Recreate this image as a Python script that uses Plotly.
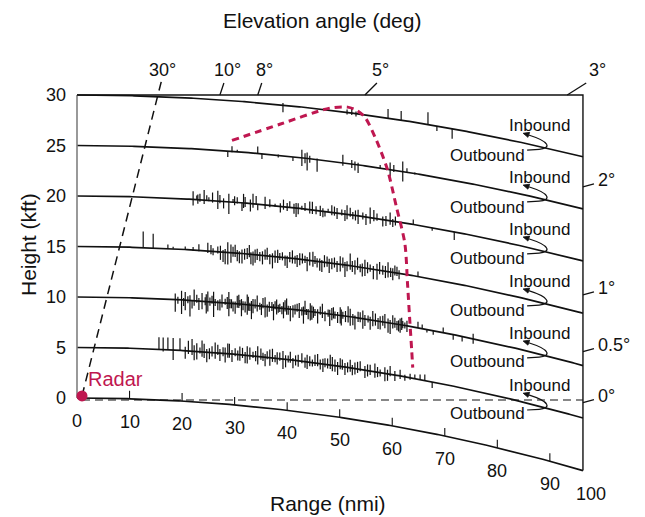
import math
import plotly.graph_objects as go

# ---------------- data ----------------
RANGE_TICKS = [0, 10, 20, 30, 40, 50, 60, 70, 80, 90, 100]
HEIGHT_TICKS = [0, 5, 10, 15, 20, 25, 30]
FLIGHT_ALTS = [30, 25, 20, 15, 10, 5]          # kft
RANGE_EDGE = 96.3                               # nmi where the right border sits (labelled 100)

# bird/angel echo ticks on each flight line: range (nmi), extent above / below line (kft)
ECHO_30_R = [39.2, 51.4, 52.3, 53.1, 59.2, 61.7, 66.8, 68.5, 71.4]
ECHO_30_UP = [0.2, 0.3, 0.4, 0.2, 0.9, 0.9, 1.2, 0.0, 0.0]
ECHO_30_DN = [0.7, 0.2, 0.2, 0.3, 0.0, 0.0, 0.0, 0.5, 1.0]

ECHO_25_R = [28.7, 29.5, 30.5, 34.4, 35.2, 38.3, 41.1, 42.8, 43.4, 43.8, 44.3, 45.7,
             50.6, 52.3, 52.9, 53.5, 57.7, 59.6, 60.3, 62.0, 62.8, 64.3]
ECHO_25_UP = [0.0, 0.5, 0.2, 0.7, 0.0, 0.1, 0.0, 0.8, 0.5, 0.6, 0.3, 0.1,
              0.8, 0.4, 0.3, 0.2, 0.3, 0.7, 0.5, 1.0, 0.4, 0.1]
ECHO_25_DN = [0.6, 0.1, 0.0, 0.0, 0.5, 0.2, 0.4, 0.8, 0.5, 1.2, 0.4, 1.2,
              0.3, 0.4, 0.6, 0.8, 0.0, 0.7, 0.2, 1.0, 0.0, 0.1]

ECHO_20_R = [22.1, 22.8, 23.4, 24.2, 24.7, 25.1, 26.8, 27.2, 28.9, 29.7, 30.5, 31.4, 32.0,
             33.5, 34.1, 34.4, 35.8, 37.7, 40.0, 40.5, 41.3, 42.1, 42.8, 43.4, 44.3, 45.5,
             46.3, 47.2, 47.8, 48.5, 49.5, 50.4, 51.4, 52.5, 53.5, 54.4, 55.8, 57.1, 58.2,
             59.6, 60.1, 64.0, 67.6, 71.8,
             23.0, 25.8, 27.9, 30.0, 31.7, 33.0, 36.7, 38.7, 39.3, 41.7,
             44.8, 46.8, 49.0, 51.0, 52.0, 53.0, 55.0, 56.5, 58.8, 60.6]
ECHO_20_UP = [0.8, 0.4, 0.6, 1.0, 0.5, 0.3, 1.0, 0.6, 0.8, 0.3, 0.5, 0.0, 0.6,
              1.0, 0.8, 0.0, 0.8, 0.2, 0.4, 0.6, 0.4, 0.5, 0.3, 0.6, 0.8, 0.4,
              0.5, 0.0, 0.3, 0.7, 0.5, 0.4, 0.9, 0.3, 0.6, 0.4, 1.0, 0.5, 0.3,
              0.8, 0.2, 0.5, 0.0, 0.0,
              0.5, 0.8, 0.3, 0.6, 0.9, 0.4, 0.6, 0.3, 0.7, 0.5,
              0.8, 0.3, 0.6, 0.4, 0.7, 0.5, 0.3, 0.8, 0.4, 0.5]
ECHO_20_DN = [0.6, 0.0, 0.2, 0.4, 0.0, 0.1, 0.8, 0.2, 1.2, 0.0, 0.1, 0.8, 0.4,
              0.4, 0.0, 0.6, 0.4, 0.1, 0.4, 0.0, 0.6, 0.6, 0.1, 0.2, 0.4, 0.4,
              0.5, 0.5, 0.0, 0.3, 0.6, 0.2, 0.5, 0.4, 0.8, 0.3, 0.6, 0.2, 0.7,
              0.4, 0.6, 0.0, 0.3, 0.8,
              0.4, 0.2, 0.7, 0.3, 0.5, 0.8, 0.2, 0.6, 0.3, 0.9,
              0.4, 0.6, 0.3, 0.7, 0.2, 0.5, 0.8, 0.3, 0.6, 0.4]

ECHO_15_R = [12.6, 14.5, 17.3, 18.3, 20.6, 22.1, 23.2, 24.9, 25.5, 25.9, 26.8, 27.8,
             28.7, 29.3, 29.7, 30.5, 31.4, 32.4, 33.1, 33.9, 34.8, 35.8, 36.7, 37.7,
             38.6, 39.6, 40.5, 41.5, 42.4, 43.4, 44.3, 45.7, 46.6, 47.6, 48.5, 49.5,
             50.6, 51.4, 52.0, 52.9, 53.9, 54.8, 55.8, 57.1, 58.2, 59.2, 60.1, 60.9, 64.9,
             27.3, 28.2, 30.1, 30.9, 31.9, 32.8, 33.5, 34.3, 35.3, 36.2,
             37.2, 38.2, 39.1, 40.0, 41.0, 41.9, 42.9, 43.8, 44.9, 45.3,
             46.2, 47.1, 48.0, 49.0, 50.1, 51.0, 52.4, 53.4, 54.3, 55.3,
             56.4, 57.6, 58.7, 59.7, 60.5, 61.3]
ECHO_15_UP = [1.6, 1.4, 0.4, 0.2, 0.3, 0.3, 0.6, 0.8, 0.6, 0.3, 0.5, 0.2,
              1.0, 0.8, 0.6, 0.3, 0.4, 0.6, 0.2, 0.5, 0.3, 0.6, 0.2, 0.6,
              0.4, 0.2, 0.6, 0.3, 0.6, 0.4, 0.8, 0.3, 0.2, 0.6, 0.5, 0.3,
              0.7, 0.4, 1.2, 0.6, 0.3, 0.8, 0.4, 0.6, 0.5, 0.9, 0.4, 0.6, 0.5,
              0.6, 0.3, 0.8, 0.2, 0.5, 0.9, 0.3, 0.6, 0.4, 0.8,
              0.3, 0.7, 0.5, 0.2, 0.8, 0.4, 0.6, 0.3, 0.9, 0.5,
              0.3, 0.7, 0.4, 0.6, 0.8, 0.3, 0.5, 0.9, 0.4, 0.6,
              0.3, 0.8, 0.5, 0.4, 0.7, 0.3]
ECHO_15_DN = [0.0, 0.0, 0.0, 0.0, 0.0, 0.1, 0.1, 0.2, 0.3, 0.4, 0.2, 1.0,
              1.2, 1.0, 0.4, 0.8, 1.0, 0.5, 1.0, 0.8, 0.6, 0.4, 0.8, 0.6,
              0.3, 0.8, 0.4, 0.5, 0.6, 0.3, 0.5, 0.6, 1.0, 0.4, 0.6, 0.8,
              0.3, 0.6, 0.4, 0.8, 0.5, 0.8, 0.3, 1.0, 0.4, 0.6, 0.8, 0.3, 0.0,
              0.8, 1.2, 0.4, 1.0, 0.6, 0.3, 1.1, 0.5, 0.9, 0.4,
              1.2, 0.6, 0.3, 1.0, 0.5, 0.8, 0.4, 1.1, 0.6, 0.3,
              0.9, 0.5, 1.0, 0.4, 0.7, 1.2, 0.6, 0.3, 0.9, 0.5,
              1.0, 0.4, 0.7, 0.5, 0.3, 0.6]

ECHO_10_R = [18.7, 19.2, 20.6, 21.1, 21.9, 22.8, 23.8, 24.4, 24.9, 25.7, 26.3, 26.8,
             27.6, 28.2, 29.1, 29.7, 30.5, 31.0, 31.6, 32.4, 32.9, 33.5, 34.3, 34.8,
             35.4, 36.2, 37.1, 37.7, 38.3, 39.0, 39.6, 40.2, 41.1, 41.9, 42.8, 43.4,
             44.0, 44.7, 45.3, 46.3, 47.2, 47.8, 48.5, 49.1, 50.1, 50.6, 51.6, 52.5,
             53.5, 54.4, 55.4, 56.3, 57.3, 58.2, 59.2, 60.1, 60.9, 61.5, 62.0, 62.8,
             64.9, 65.7, 66.6, 67.8, 69.7, 71.6, 73.3, 75.4,
             19.9, 20.3, 21.5, 22.3, 23.2, 24.6, 25.3, 26.0, 27.2, 28.6,
             28.9, 29.4, 30.1, 30.8, 31.3, 32.0, 32.6, 33.2, 33.9, 35.1,
             35.8, 36.6, 37.4, 38.0, 38.6, 39.3, 39.9, 40.6, 41.5, 42.3,
             43.1, 43.7, 44.4, 45.0, 45.8, 46.7, 48.1, 48.8, 49.6, 50.3,
             51.1, 52.0, 52.9, 53.9, 54.8, 55.8, 56.8, 57.7, 58.6, 59.6,
             60.5, 61.2, 61.8, 62.4]
ECHO_10_UP = [0.6, 0.3, 0.8, 0.4, 0.0, 0.6, 0.8, 0.4, 1.0, 0.6, 0.3, 0.2,
              0.8, 0.4, 0.4, 0.2, 0.8, 0.4, 0.3, 1.0, 0.2, 0.6, 1.0, 0.3,
              0.8, 0.2, 0.5, 0.6, 0.3, 0.2, 0.8, 0.3, 0.4, 0.6, 0.3, 1.0,
              0.2, 0.6, 0.3, 0.6, 0.2, 0.4, 0.6, 0.3, 0.8, 0.4, 1.0, 0.3,
              0.6, 0.8, 0.4, 0.9, 0.3, 0.6, 0.4, 0.8, 0.3, 0.6, 0.4, 0.5,
              0.6, 0.4, 0.0, 0.0, 0.5, 0.0, 0.0, 0.5,
              0.9, 0.2, 0.5, 1.1, 0.3, 0.7, 0.4, 1.0, 0.3, 0.6,
              1.1, 0.4, 0.2, 0.9, 0.5, 0.3, 0.8, 0.4, 0.6, 0.2,
              0.9, 0.5, 0.3, 0.8, 0.4, 0.6, 1.0, 0.3, 0.5, 0.7,
              0.4, 0.2, 0.8, 0.5, 0.3, 0.9, 0.4, 0.7, 0.3, 0.6,
              0.5, 0.8, 0.2, 0.6, 0.4, 0.3, 0.7, 0.5, 0.8, 0.3,
              0.6, 0.4, 0.7, 0.3]
ECHO_10_DN = [1.2, 0.4, 1.0, 0.3, 0.8, 0.2, 0.8, 0.4, 1.0, 0.2, 0.4, 0.8,
              0.5, 0.2, 0.5, 0.8, 0.4, 0.2, 0.6, 1.0, 0.6, 0.8, 0.6, 0.4,
              0.2, 1.0, 0.4, 0.2, 0.5, 0.6, 0.3, 0.6, 0.8, 0.2, 0.5, 0.4,
              0.8, 0.8, 0.4, 0.2, 0.8, 0.3, 0.6, 0.4, 0.8, 0.3, 0.6, 0.8,
              0.4, 1.0, 0.3, 0.6, 0.8, 0.4, 1.0, 0.5, 0.6, 0.8, 0.3, 0.6,
              0.0, 0.0, 0.3, 0.4, 0.0, 0.5, 0.5, 0.5,
              1.4, 0.6, 1.6, 0.5, 0.9, 1.2, 0.4, 1.5, 0.8, 0.6,
              1.3, 0.5, 1.0, 0.4, 1.2, 0.8, 0.6, 1.4, 0.3, 0.9,
              1.1, 0.5, 1.3, 0.7, 0.4, 1.0, 0.6, 1.2, 0.5, 0.8,
              1.3, 0.4, 0.9, 0.6, 1.1, 0.5, 1.2, 0.4, 0.8, 1.0,
              0.6, 0.9, 1.2, 0.4, 0.7, 1.0, 0.5, 0.8, 0.6, 1.1,
              0.4, 0.7, 0.5, 0.3]

ECHO_5_R = [15.6, 16.4, 17.3, 18.3, 19.6, 20.6, 21.9, 22.8, 23.4, 24.2, 24.7, 25.7,
            26.3, 27.2, 27.8, 28.7, 29.5, 30.1, 31.0, 32.0, 32.9, 33.5, 34.4, 35.4,
            36.2, 36.7, 37.7, 38.6, 39.2, 40.2, 41.1, 42.1, 42.8, 43.4, 44.3, 45.3,
            46.3, 47.2, 48.2, 49.1, 50.1, 51.0, 52.0, 52.9, 53.9, 54.8, 55.8, 56.7,
            57.7, 58.6, 59.6, 60.5, 61.5, 62.4, 63.4, 64.3, 65.3, 66.2, 67.6,
            21.2, 22.3, 23.8, 25.2, 26.8, 28.2, 29.0, 30.6, 31.5, 32.4,
            34.0, 35.0, 35.8, 37.2, 38.1, 39.7, 40.6, 41.6, 43.8, 44.8,
            45.8, 46.8, 47.7, 48.6, 49.6, 50.5, 51.5, 52.4, 53.4, 55.3,
            57.2, 59.1]
ECHO_5_UP = [1.2, 1.2, 1.2, 1.2, 1.2, 0.4, 1.2, 0.8, 0.4, 0.8, 0.3, 0.6,
             1.0, 0.4, 0.6, 1.0, 0.4, 0.6, 0.8, 0.3, 0.8, 0.4, 1.0, 0.4,
             0.6, 0.8, 0.3, 0.6, 0.8, 0.4, 0.2, 0.6, 0.8, 0.4, 0.6, 0.8,
             0.4, 0.6, 1.0, 0.6, 0.8, 0.4, 0.8, 0.6, 0.8, 0.4, 0.6, 0.8,
             0.3, 0.6, 0.8, 0.4, 0.6, 0.2, 0.4, 0.4, 0.5, 0.6, 0.0,
             1.0, 0.6, 1.1, 0.4, 0.8, 0.6, 1.0, 0.4, 0.7, 0.9,
             0.5, 0.8, 0.3, 0.9, 0.6, 0.4, 0.8, 0.5, 0.7, 0.3,
             0.9, 0.5, 0.6, 0.8, 0.4, 0.7, 0.5, 0.3, 0.7, 0.6,
             0.5, 0.4]
ECHO_5_DN = [0.0, 0.2, 0.0, 1.0, 0.0, 0.8, 0.4, 0.8, 0.2, 0.6, 1.0, 0.4,
             0.6, 0.8, 0.3, 0.4, 0.8, 0.2, 0.6, 0.8, 0.4, 0.2, 0.8, 0.4,
             0.2, 0.8, 0.4, 0.2, 1.0, 0.3, 0.8, 0.6, 0.2, 0.6, 0.4, 0.3,
             0.6, 0.3, 0.4, 0.6, 0.3, 0.8, 0.4, 0.6, 0.2, 0.8, 0.4, 0.6,
             0.4, 0.8, 0.2, 0.6, 0.3, 0.4, 0.2, 0.0, 0.0, 0.0, 0.6,
             0.3, 0.9, 0.5, 0.7, 0.2, 0.9, 0.4, 0.6, 0.3, 0.8,
             0.5, 0.3, 0.9, 0.4, 0.6, 0.8, 0.3, 0.5, 0.7, 0.4,
             0.3, 0.8, 0.4, 0.6, 0.9, 0.3, 0.5, 0.7, 0.4, 0.6,
             0.5, 0.7]

ECHOES = {
    30: (ECHO_30_R, ECHO_30_UP, ECHO_30_DN),
    25: (ECHO_25_R, ECHO_25_UP, ECHO_25_DN),
    20: (ECHO_20_R, ECHO_20_UP, ECHO_20_DN),
    15: (ECHO_15_R, ECHO_15_UP, ECHO_15_DN),
    10: (ECHO_10_R, ECHO_10_UP, ECHO_10_DN),
    5: (ECHO_5_R, ECHO_5_UP, ECHO_5_DN),
}
for k, (a, b, c) in ECHOES.items():
    assert len(a) == len(b) == len(c), (k, len(a), len(b), len(c))

# red dashed envelope of the echoes
ENVELOPE_R = [29.5, 38.6, 48.1, 51.5, 53.2, 54.8, 57.0, 59.1, 60.8, 62.4, 62.9, 63.3, 63.7, 63.9]
ENVELOPE_H = [25.5, 27.1, 28.7, 28.8, 28.5, 27.8, 25.5, 22.6, 18.9, 15.3, 11.4, 8.0, 4.75, 3.0]

# elevation-angle markers
TOP_ANGLE_LABELS = ["30°", "10°", "8°", "5°", "3°"]
TOP_ANGLE_R = [15.4, 27.2, 34.4, 54.8, 93.3]        # range where the ray meets 30 kft
EDGE_ANGLE_LABELS = ["2°", "1°", "0.5°", "0°"]
EDGE_ANGLE_H = [20.9, 10.2, 4.6, -0.45]              # height where the ray meets the right edge

RADAR_R, RADAR_H = 0.95, 0.2
HORIZON_H = -0.2

# ---------------- geometry / layout ----------------
PAGE_PAD = 8                     # browser body margin
W, H = 645 - PAGE_PAD, 517 - PAGE_PAD
X0_PX, Y0_PX = 77 - PAGE_PAD, 398 - PAGE_PAD   # pixel of (0 nmi, 0 kft) inside the figure
KX, KY = 5.254, 10.1             # px per nmi, px per kft
EARTH_R_PX = 1800                # drawn earth radius (px)
FONT = "Liberation Sans, Arial, Helvetica, sans-serif"
INK = "#111111"
CRIMSON = "#BF1750"


def curve_h(h, r):
    X = KX * r
    Rh = EARTH_R_PX + KY * h
    return h - (Rh - math.sqrt(Rh * Rh - X * X)) / KY


def px(x, y):
    """reference-page pixel -> paper fraction"""
    return (x - PAGE_PAD) / W, 1 - (y - PAGE_PAD) / H


N = 240
rs = [RANGE_EDGE * i / (N - 1) for i in range(N)]

fig = go.Figure()

# flight lines and the earth surface
for h in FLIGHT_ALTS + [0]:
    fig.add_trace(go.Scatter(x=rs, y=[curve_h(h, r) for r in rs], mode="lines",
                             line=dict(color=INK, width=1.7), hoverinfo="skip", showlegend=False))

# echo ticks
for h, (er, eu, ed) in ECHOES.items():
    xs, ys = [], []
    for r, u, d in zip(er, eu, ed):
        if u == 0 and d == 0:
            continue
        b = curve_h(h, r)
        xs += [r, r, None]
        ys += [b - d, b + u, None]
    fig.add_trace(go.Scatter(x=xs, y=ys, mode="lines", line=dict(color=INK, width=1.2),
                             hoverinfo="skip", showlegend=False))

# frame
fig.add_trace(go.Scatter(x=[0, 0], y=[0, 30], mode="lines", line=dict(color="#808080", width=1.6),
                         hoverinfo="skip", showlegend=False))
fig.add_trace(go.Scatter(x=[0, RANGE_EDGE, RANGE_EDGE], y=[30, 30, curve_h(0, RANGE_EDGE)], mode="lines",
                         line=dict(color=INK, width=1.4), hoverinfo="skip", showlegend=False))

# horizon (0 deg) dashed line
fig.add_trace(go.Scatter(x=[RADAR_R, RANGE_EDGE], y=[HORIZON_H, HORIZON_H], mode="lines",
                         line=dict(color=INK, width=1.2, dash="8px,5px"), hoverinfo="skip", showlegend=False))

# 30 deg ray from the radar
slope = (TOP_ANGLE_R[0] - RADAR_R) / (30 - RADAR_H)
h_end = 31.3
fig.add_trace(go.Scatter(x=[RADAR_R, RADAR_R + slope * (h_end - RADAR_H)], y=[RADAR_H, h_end], mode="lines",
                         line=dict(color=INK, width=1.5, dash="9px,6px"), hoverinfo="skip", showlegend=False))

# envelope
fig.add_trace(go.Scatter(x=ENVELOPE_R, y=ENVELOPE_H, mode="lines",
                         line=dict(color=CRIMSON, width=3, dash="7px,5px", shape="spline", smoothing=0.8),
                         hoverinfo="skip", showlegend=False))

# radar
fig.add_trace(go.Scatter(x=[RADAR_R], y=[RADAR_H], mode="markers",
                         marker=dict(color=CRIMSON, size=11), hoverinfo="skip", showlegend=False))

shapes = []
annotations = []

# range ticks along the earth curve
for t in RANGE_TICKS:
    rr = min(t, RANGE_EDGE)
    base = curve_h(0, rr)
    if 0 < t < 100:
        shapes.append(dict(type="line", xref="x", yref="y", xsizemode="pixel", ysizemode="pixel",
                           xanchor=rr, yanchor=base, x0=0, x1=0, y0=0, y1=8,
                           line=dict(color=INK, width=1.1)))
    annotations.append(dict(x=rr, y=base, text=str(t), showarrow=False, xanchor="center", yanchor="middle",
                            xshift=(8 if t == 100 else 0), yshift=-23,
                            font=dict(family=FONT, size=18, color=INK)))

# height labels
for h in HEIGHT_TICKS:
    annotations.append(dict(x=0, y=h, text=str(h), showarrow=False, xanchor="right", yanchor="middle",
                            xshift=-9, font=dict(family=FONT, size=18, color=INK)))

# top elevation labels with leader lines
LEADER_DX = [0, 4, 4, 12, 19]
LABEL_DX = [1, 4, 3, 4, 11]
for lab, r, ldx, tdx in zip(TOP_ANGLE_LABELS, TOP_ANGLE_R, LEADER_DX, LABEL_DX):
    top_dx, top_dy = ldx, 12
    if ldx:
        shapes.append(dict(type="line", xref="x", yref="y", xsizemode="pixel", ysizemode="pixel",
                           xanchor=r, yanchor=30, x0=0, x1=ldx, y0=0, y1=12,
                           line=dict(color=INK, width=1.3)))
    else:
        top_dx = slope * (h_end - 30) * KX
    annotations.append(dict(x=r, y=30, text=lab, showarrow=False, xanchor="center", yanchor="middle",
                            xshift=top_dx + tdx, yshift=top_dy + 13,
                            font=dict(family=FONT, size=18, color=INK)))

# right-edge elevation labels
for lab, h in zip(EDGE_ANGLE_LABELS, EDGE_ANGLE_H):
    shapes.append(dict(type="line", xref="x", yref="y", xsizemode="pixel", ysizemode="pixel",
                       xanchor=RANGE_EDGE, yanchor=h, x0=0, x1=11, y0=0, y1=3,
                       line=dict(color=INK, width=1.3)))
    annotations.append(dict(x=RANGE_EDGE, y=h, text=lab, showarrow=False, xanchor="left", yanchor="middle",
                            xshift=13, yshift=7, font=dict(family=FONT, size=18, color=INK)))

# Inbound / Outbound labels with curved arrows
R_IN, R_OUT, R_ARROW = 88.1, 78.2, 89.1
for h in FLIGHT_ALTS:
    annotations.append(dict(x=R_IN, y=curve_h(h, R_IN), text="Inbound", showarrow=False,
                            xanchor="center", yanchor="middle", yshift=21,
                            font=dict(family=FONT, size=17, color=INK)))
    annotations.append(dict(x=R_OUT, y=curve_h(h, R_OUT), text="Outbound", showarrow=False,
                            xanchor="center", yanchor="middle", yshift=-20,
                            font=dict(family=FONT, size=17, color=INK)))
    ya = curve_h(h, R_ARROW)
    shapes.append(dict(type="path", xref="x", yref="y", xsizemode="pixel", ysizemode="pixel",
                       xanchor=R_ARROW, yanchor=ya,
                       path="M -18,-2.3 L -6,-1.6 C 0,-1.2 3,1 1.5,3.5 C 0,6.5 -6,9.5 -16.5,12.8",
                       line=dict(color=INK, width=1.2)))
    shapes.append(dict(type="path", xref="x", yref="y", xsizemode="pixel", ysizemode="pixel",
                       xanchor=R_ARROW, yanchor=ya,
                       path="M -22,14.5 L -15.5,15.4 L -17.2,10.4 Z",
                       fillcolor=INK, line=dict(color=INK, width=0.8)))

# Radar label
annotations.append(dict(x=RADAR_R, y=RADAR_H, text="Radar", showarrow=False, xanchor="left", yanchor="middle",
                        xshift=4, yshift=17, font=dict(family=FONT, size=20, color=CRIMSON)))

# axis titles
for text, (x, y), ang in [("Elevation angle (deg)", (322, 20), 0),
                          ("Range (nmi)", (328, 503), 0),
                          ("Height (kft)", (28, 245), -90)]:
    fx, fy = px(x, y)
    annotations.append(dict(xref="paper", yref="paper", x=fx, y=fy, text=text, showarrow=False,
                            xanchor="center", yanchor="middle", textangle=ang,
                            font=dict(family=FONT, size=21, color=INK)))

fig.update_layout(
    width=W, height=H, autosize=False,
    margin=dict(l=0, r=0, t=0, b=0),
    paper_bgcolor="white", plot_bgcolor="white",
    xaxis=dict(range=[-X0_PX / KX, (W - X0_PX) / KX], visible=False, fixedrange=True),
    yaxis=dict(range=[(Y0_PX - H) / KY, Y0_PX / KY], visible=False, fixedrange=True),
    shapes=shapes, annotations=annotations, showlegend=False,
)

fig.write_html("out.html")
